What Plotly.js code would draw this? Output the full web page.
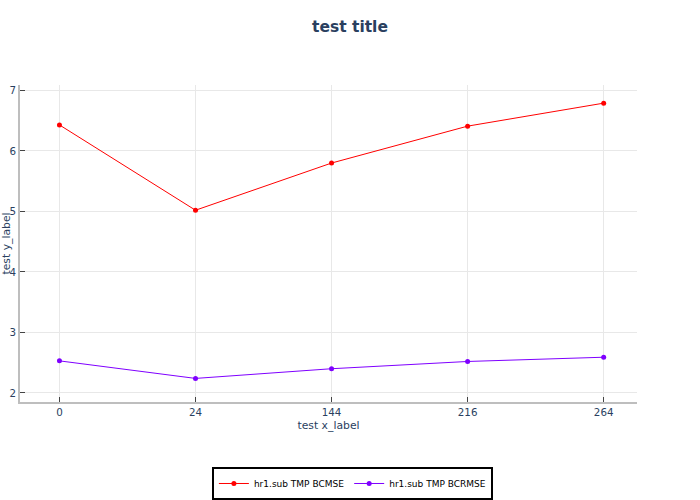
<!DOCTYPE html>
<html>
<head>
<meta charset="utf-8">
<script src="https://cdn.plot.ly/plotly-3.0.1.min.js"></script>
<style>html,body{margin:0;padding:0;background:#fff;}#chart{width:700px;height:500px;}</style>
</head>
<body>
<div id="chart"></div>
<script>
const xLabels = ["0", "24", "144", "216", "264"];
const bcmse = [6.43, 5.02, 5.80, 6.41, 6.79];
const bcrmse = [2.53, 2.24, 2.40, 2.52, 2.59];
const seriesNames = ["hr1.sub TMP BCMSE", "hr1.sub TMP BCRMSE"];

const FONT = "DejaVu Sans, Verdana, sans-serif";
const traces = [
  {x: xLabels, y: bcmse, name: seriesNames[0], type: "scatter", mode: "lines+markers",
   line: {color: "#ff0000", width: 1}, marker: {color: "#ff0000", size: 5}},
  {x: xLabels, y: bcrmse, name: seriesNames[1], type: "scatter", mode: "lines+markers",
   line: {color: "#7f00ff", width: 1}, marker: {color: "#7f00ff", size: 5}}
];
const layout = {
  width: 700, height: 500,
  paper_bgcolor: "#fff", plot_bgcolor: "#fff",
  font: {family: FONT, color: "#2a3f5f", size: 10.5},
  margin: {l: 20, r: 63, t: 85, b: 98, autoexpand: false},
  title: {text: "<b>test title</b>", x: 0.5, xanchor: "center", y: 0.946, yanchor: "middle",
          font: {family: FONT, size: 15.5, color: "#2a3f5f"}},
  xaxis: {type: "category", range: [-0.29, 4.245], autorange: false,
          title: {text: "test x_label", standoff: 4, font: {size: 10.8}},
          showgrid: true, gridcolor: "#e8e8e8", gridwidth: 1,
          showline: true, linecolor: "#bebebe", linewidth: 2,
          ticks: "inside", ticklen: 5, tickcolor: "#444", tickwidth: 1,
          tickfont: {size: 10.3}, zeroline: false, automargin: false},
  yaxis: {range: [1.85, 7.09], autorange: false, dtick: 1,
          title: {text: "test y_label", standoff: 0, font: {size: 10.8}},
          showgrid: true, gridcolor: "#e8e8e8", gridwidth: 1,
          showline: true, linecolor: "#bebebe", linewidth: 2,
          ticks: "inside", ticklen: 5, tickcolor: "#444", tickwidth: 1,
          tickfont: {size: 10.3}, zeroline: false, automargin: false},
  showlegend: true,
  legend: {orientation: "h", x: 0.311, xanchor: "left", y: -0.205, yanchor: "top",
           bordercolor: "#000", borderwidth: 2, bgcolor: "#fff",
           font: {family: FONT, size: 9, color: "#000"}}
};
Plotly.newPlot("chart", traces, layout, {displayModeBar: false});
</script>
</body>
</html>
